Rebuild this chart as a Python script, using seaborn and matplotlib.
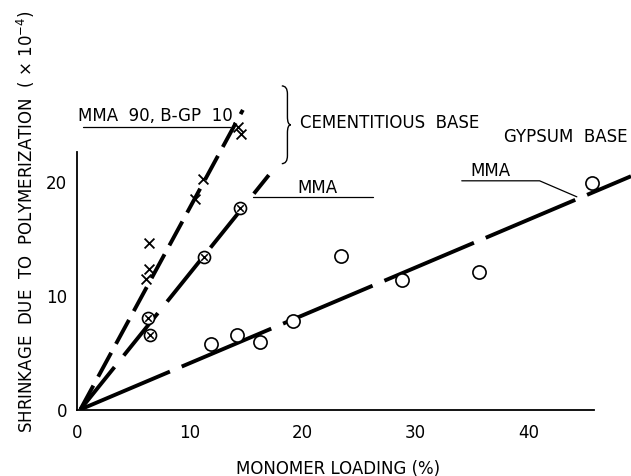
import numpy as np
import matplotlib
matplotlib.use("Agg")
import matplotlib.pyplot as plt
from matplotlib.path import Path
from matplotlib.patches import PathPatch
import seaborn as sns

# data
# cementitious base, MMA 90 / B-GP 10 blend (crosses)
blend_x = [6.4, 6.4, 6.1, 10.5, 11.2, 14.3, 14.5]
blend_y = [14.6, 12.3, 11.4, 18.4, 20.2, 24.7, 24.1]
# cementitious base, MMA (circled crosses)
cem_x = [6.3, 6.5, 11.3, 14.45]
cem_y = [8.0, 6.5, 13.3, 17.6]
# gypsum base, MMA (open circles)
gyp_x = [11.9, 14.2, 16.2, 19.1, 23.4, 28.8, 35.6, 45.6]
gyp_y = [5.7, 6.5, 5.9, 7.7, 13.4, 11.3, 12.0, 19.8]

# hand drawn fit lines (end points)
fit_blend_x = [0.3, 14.7]
fit_blend_y = [0.0, 26.2]
fit_cem_x = [0.3, 17.0]
fit_cem_y = [0.0, 20.5]
fit_gyp_x = [0.3, 49.1]
fit_gyp_y = [0.0, 20.4]

xticks = [0, 10, 20, 30, 40]
yticks = [0, 10, 20]

sns.set_style("white")
plt.rcParams['font.family'] = ['DejaVu Sans']
plt.rcParams['text.color'] = 'black'
plt.rcParams['axes.labelcolor'] = 'black'

fig = plt.figure(figsize=(6.31, 4.77), dpi=100)
ax = fig.add_axes([77 / 631, (477 - 410.5) / 477, 554 / 631, 410.5 / 477])
ax.set_xlim(0, 49.1)
ax.set_ylim(0, 35.9)

lw = 2.8
sns.lineplot(x=fit_blend_x, y=fit_blend_y, ax=ax, color='black', linewidth=lw)
ax.lines[-1].set_dashes([7, 2.6])
sns.lineplot(x=fit_cem_x, y=fit_cem_y, ax=ax, color='black', linewidth=lw)
ax.lines[-1].set_dashes([14, 3.8])
sns.lineplot(x=fit_gyp_x, y=fit_gyp_y, ax=ax, color='black', linewidth=lw)
ax.lines[-1].set_dashes([25, 3.3])

sns.scatterplot(x=blend_x, y=blend_y, ax=ax, marker='x', s=50, color='black',
                linewidth=1.3, zorder=3)
sns.scatterplot(x=cem_x, y=cem_y, ax=ax, marker='o', s=75, color='black',
                facecolor='white', edgecolor='black', linewidth=1.2, zorder=3)
sns.scatterplot(x=cem_x, y=cem_y, ax=ax, marker='x', s=22, color='black',
                linewidth=1.1, zorder=4)
sns.scatterplot(x=gyp_x, y=gyp_y, ax=ax, marker='o', s=90, color='black',
                facecolor='white', edgecolor='black', linewidth=1.2, zorder=3)

# axes
sns.despine(ax=ax)
ax.spines['left'].set_bounds(0, 22.5)
ax.spines['bottom'].set_bounds(0, 45.8)
for s in ('left', 'bottom'):
    ax.spines[s].set_linewidth(1.3)
    ax.spines[s].set_color('black')
ax.set_xticks(xticks)
ax.set_yticks(yticks)
ax.tick_params(direction='in', length=5, width=1.2, colors='black',
               labelsize=12)
ax.tick_params(axis='x', pad=10)
ax.tick_params(axis='y', pad=7)

ax.set_xlabel('MONOMER LOADING (%)', fontsize=12)
ax.xaxis.set_label_coords(0.472, -0.12)
ax.set_ylabel('SHRINKAGE  DUE  TO  POLYMERIZATION  ( × 10$^{-4}$)', fontsize=12)
ax.yaxis.set_label_coords(-0.072, 0.459)

# annotations
fs = 12
ax.text(0.1, 25.3, 'MMA  90, B-GP  10', fontsize=fs, va='baseline')
ax.plot([0.5, 13.6], [24.7, 24.7], color='black', lw=0.9)

ax.text(19.8, 24.7, 'CEMENTITIOUS  BASE', fontsize=fs, va='baseline')
ax.text(37.85, 23.5, 'GYPSUM  BASE', fontsize=fs, va='baseline')

ax.text(19.5, 19.0, 'MMA', fontsize=fs, va='baseline')
ax.plot([15.6, 26.2], [18.6, 18.6], color='black', lw=0.9)

ax.text(34.9, 20.5, 'MMA', fontsize=fs, va='baseline')
ax.plot([34.1, 41.0, 44.3], [20.0, 20.0, 18.6], color='black', lw=0.9)


def curly_brace(xs, ytop, ybot, tip=0.5, nose=0.3, r=0.7):
    ym = (ytop + ybot) / 2
    verts = [(xs - tip, ytop), (xs, ytop), (xs, ytop - r),
             (xs, ym + r), (xs, ym), (xs + nose, ym),
             (xs, ym), (xs, ym - r),
             (xs, ybot + r), (xs, ybot), (xs - tip, ybot)]
    codes = [Path.MOVETO, Path.CURVE3, Path.CURVE3,
             Path.LINETO, Path.CURVE3, Path.CURVE3,
             Path.CURVE3, Path.CURVE3,
             Path.LINETO, Path.CURVE3, Path.CURVE3]
    return PathPatch(Path(verts, codes), fill=False, lw=1.0, color='black')


ax.add_patch(curly_brace(18.65, 28.3, 21.5))

fig.savefig('out.png', dpi=100)
